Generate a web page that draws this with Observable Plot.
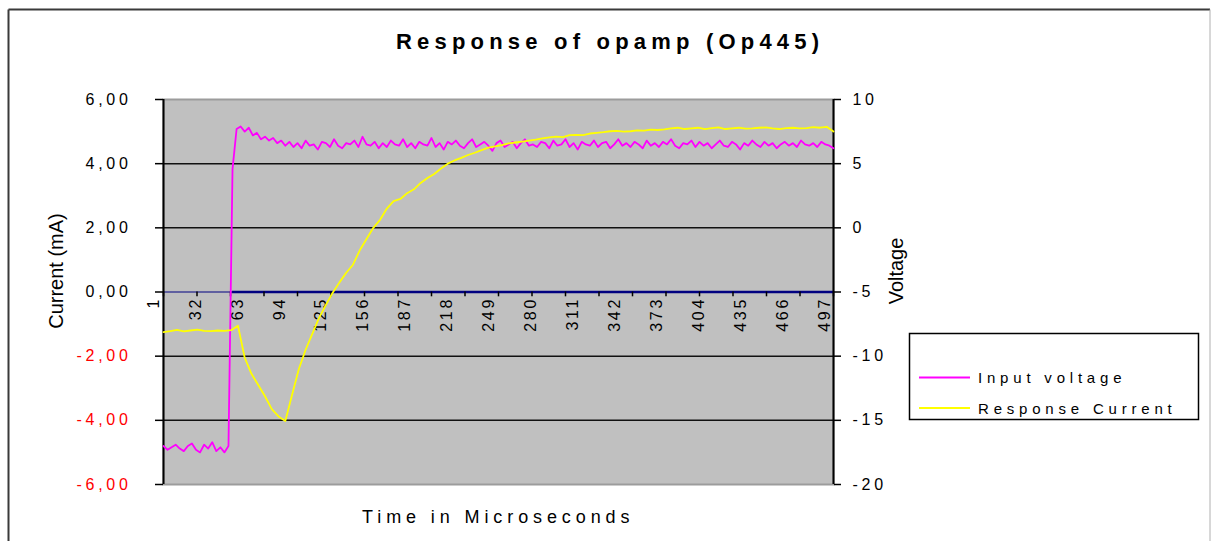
<!DOCTYPE html>
<html><head><meta charset="utf-8">
<script src="https://cdn.jsdelivr.net/npm/d3@7"></script>
<script src="https://cdn.jsdelivr.net/npm/@observablehq/plot@0.6"></script>
<style>
html,body{margin:0;padding:0;background:#fff;}
#chart svg{display:block}
</style></head><body><div id="chart"></div>
<script>
const chartTitle = "Response of opamp (Op445)";
const xTitle = "Time in Microseconds";
const yLeftTitle = "Current (mA)";
const yRightTitle = "Voltage";
const seriesNames = ["Input voltage", "Response Current"];
const seriesColors = ["#ff00ff", "#ffff00"];

// category (sample) tick labels on the x axis
const xLabels = [1, 32, 63, 94, 125, 156, 187, 218, 249, 280, 311, 342, 373, 404, 435, 466, 497];
// left axis (current, mA)
const leftTicks = [-6, -4, -2, 0, 2, 4, 6];
const leftTickLabels = ["-6,00", "-4,00", "-2,00", "0,00", "2,00", "4,00", "6,00"];
// right axis (voltage)
const rightTickLabels = ["-20", "-15", "-10", "-5", "0", "5", "10"];
const gridValues = [-4, -2, 2, 4];

// Response current (mA), every 5th sample starting at 1
const responseCurrent = [
  -1.25, -1.22, -1.18, -1.23, -1.2, -1.17, -1.21, -1.22, -1.2, -1.21,
  -1.19, -1.05, -2.05, -2.55, -2.9, -3.25, -3.65, -3.88, -4.02, -3.2,
  -2.4, -1.8, -1.3, -0.8, -0.4, -0.02, 0.3, 0.6, 0.85, 1.3,
  1.65, 2.0, 2.25, 2.6, 2.83, 2.9, 3.08, 3.2, 3.4, 3.55,
  3.68, 3.85, 4.0, 4.1, 4.18, 4.27, 4.34, 4.42, 4.5, 4.54,
  4.58, 4.63, 4.66, 4.69, 4.72, 4.75, 4.79, 4.82, 4.84, 4.83,
  4.89, 4.9, 4.89, 4.94, 4.96, 4.98, 5.01, 5.02, 5.0, 5.01,
  5.04, 5.03, 5.06, 5.05, 5.07, 5.1, 5.12, 5.08, 5.1, 5.12,
  5.08, 5.11, 5.13, 5.08, 5.1, 5.12, 5.09, 5.1, 5.12, 5.13,
  5.1, 5.08, 5.11, 5.12, 5.1, 5.11, 5.14, 5.12, 5.15, 5.0
];
// Input voltage (V), every 3rd sample starting at 1
const inputVoltage = [
  -17.0, -17.3, -17.1, -16.9, -17.2, -17.4, -17.0, -16.8, -17.3, -17.5,
  -16.9, -17.2, -16.7, -17.4, -17.1, -17.5, -17.0,
  4.6,
  7.7, 7.9, 7.5, 7.8, 7.2, 7.4, 6.9, 7.1, 6.8, 7.0, 6.6, 6.8, 6.4,
  6.7, 6.3, 6.6, 6.2, 6.8, 6.4, 6.5, 6.1, 6.7, 6.6, 6.3, 6.9, 6.4, 6.2, 6.6,
  6.5, 6.8, 6.3, 7.1, 6.5, 6.4, 6.7, 6.2, 6.6, 6.3, 6.8, 6.5, 6.4, 6.9, 6.3,
  6.6, 6.2, 6.7, 6.5, 6.4, 7.0, 6.3, 6.6, 6.1, 6.7, 6.5, 6.8, 6.4, 6.2, 6.6,
  6.9, 6.3, 6.5, 6.7, 6.4, 6.0, 6.6, 6.8, 6.3, 6.5, 6.7, 6.2, 6.6, 6.9, 6.4,
  6.5, 6.3, 6.7, 6.6, 6.2, 6.8, 6.4, 6.5, 6.9, 6.3, 6.6, 6.1, 6.7, 6.5, 6.4,
  6.8, 6.3, 6.6, 6.7, 6.2, 6.5, 6.9, 6.4, 6.6, 6.3, 6.7, 6.5, 6.2, 6.8, 6.4,
  6.6, 6.3, 6.7, 6.5, 6.9, 6.4, 6.2, 6.6, 6.5, 6.8, 6.3, 6.7, 6.4, 6.6, 6.2,
  6.5, 6.8, 6.4, 6.3, 6.7, 6.5, 6.1, 6.6, 6.4, 6.8, 6.5, 6.3, 6.7, 6.4, 6.6,
  6.2, 6.5, 6.7, 6.4, 6.6, 6.3, 6.8, 6.5, 6.4, 6.6, 6.3, 6.7, 6.5, 6.4, 6.2
];

const nSamples = 496;
const respT = responseCurrent.map((_, i) => 1 + 5 * i);
const inputT = inputVoltage.map((_, i) => 1 + 3 * i);
// voltage axis is linked to current axis: V = 2.5*I - 5
const voltToLeft = v => (v + 5) / 2.5;

const respData = respT.map((t, i) => ({t, c: responseCurrent[i]}));
const inputData = inputT.map((t, i) => ({t, v: voltToLeft(inputVoltage[i])}));
const stepT = inputData.find(d => d.v > 0).t;
const xTicks = d3.range(0, 21).map(k => 1 + k * (nSamples - 1) / 20);

const plot = Plot.plot({
  width: 1211, height: 541,
  marginLeft: 163, marginRight: 378, marginTop: 99, marginBottom: 57,
  x: {domain: [1, nSamples], axis: null},
  y: {domain: [-6, 6], axis: null},
  style: {fontFamily: "'Liberation Sans', Arial, sans-serif", background: "#fff", overflow: "visible"},
  marks: [
    Plot.frame({fill: "#c0c0c0", stroke: "#9c9c9c", strokeWidth: 2}),
    Plot.ruleY(gridValues, {stroke: "#111", strokeWidth: 1.5}),
    Plot.ruleY([0], {stroke: "#000080", strokeWidth: 1.2}),
    Plot.ruleY([0], {x1: () => stepT, x2: () => nSamples, stroke: "#000080", strokeWidth: 2.5}),
    Plot.ruleX(xTicks, {y1: () => 0, y2: () => -0.15, stroke: "#000", strokeWidth: 1.5}),
    Plot.axisY({anchor: "left", ticks: leftTicks, tickSize: 8, tickFormat: () => "", stroke: "#000", strokeWidth: 1.5}),
    Plot.axisY({anchor: "right", ticks: leftTicks, tickSize: 7, tickFormat: () => "", stroke: "#000", strokeWidth: 1.5}),
    Plot.ruleX([1, nSamples], {stroke: "#000", strokeWidth: 2}),
    Plot.text(leftTicks, {y: d => d, text: (d, i) => leftTickLabels[i], frameAnchor: "left", dx: -32,
      textAnchor: "end", fontSize: 16, fill: d => d < 0 ? "#ff0000" : "#000000"}),
    Plot.text(leftTicks, {y: d => d, text: (d, i) => rightTickLabels[i], frameAnchor: "right", dx: 19,
      textAnchor: "start", fontSize: 16, fill: "#000"}),
    Plot.text(xLabels, {x: d => d, y: () => 0, text: d => String(d), rotate: -90, textAnchor: "end",
      dx: -10, dy: 5, fontSize: 16, fill: "#000"}),
    Plot.line(inputData, {x: "t", y: "v", stroke: seriesColors[0], strokeWidth: 1.8}),
    Plot.line(respData, {x: "t", y: "c", stroke: seriesColors[1], strokeWidth: 1.8})
  ]
});

document.getElementById("chart").appendChild(plot);
const svg = d3.select(plot);
const font = "'Liberation Sans', Arial, sans-serif";

// letter spacing of tick-label groups (left, right, x), in mark order
const textGroups = svg.selectAll('g[aria-label="text"]').nodes();
[3.7, 3.7, 2.7].forEach((ls, i) => {
  if (textGroups[i]) d3.select(textGroups[i]).attr("letter-spacing", ls + "px");
});

// outer chart border
svg.append("line").attr("x1", 8.5).attr("y1", 9.5).attr("x2", 8.5).attr("y2", 541).attr("stroke", "#3a3a3a").attr("stroke-width", 2);
svg.append("line").attr("x1", 8.5).attr("y1", 9.5).attr("x2", 1210).attr("y2", 9.5).attr("stroke", "#3a3a3a").attr("stroke-width", 2);
svg.append("line").attr("x1", 1210).attr("y1", 9.5).attr("x2", 1210).attr("y2", 541).attr("stroke", "#b0b0b0").attr("stroke-width", 1);

svg.append("text").text(chartTitle).attr("x", 396).attr("y", 49).attr("text-anchor", "start").attr("font-family", font)
  .attr("font-size", 22).attr("font-weight", "bold").attr("letter-spacing", "5.2px").attr("fill", "#000");
svg.append("text").text(xTitle).attr("x", 362).attr("y", 523).attr("text-anchor", "start").attr("font-family", font)
  .attr("font-size", 18).attr("letter-spacing", "4.9px").attr("fill", "#000");
svg.append("text").text(yLeftTitle).attr("transform", "translate(63,271) rotate(-90)").attr("text-anchor", "middle")
  .attr("font-family", font).attr("font-size", 20).attr("fill", "#000");
svg.append("text").text(yRightTitle).attr("transform", "translate(903,271) rotate(-90)").attr("text-anchor", "middle")
  .attr("font-family", font).attr("font-size", 20).attr("fill", "#000");

// legend
const lg = svg.append("g");
lg.append("rect").attr("x", 909.5).attr("y", 333.5).attr("width", 289).attr("height", 86)
  .attr("fill", "#fff").attr("stroke", "#000").attr("stroke-width", 1.5);
seriesNames.forEach((name, i) => {
  const y = [377.5, 408][i];
  lg.append("line").attr("x1", 919).attr("x2", 970).attr("y1", y).attr("y2", y)
    .attr("stroke", seriesColors[i]).attr("stroke-width", 2);
  lg.append("text").text(name).attr("x", 978).attr("y", y + 5.5).attr("text-anchor", "start").attr("font-family", font)
    .attr("font-size", 15).attr("letter-spacing", "4.8px").attr("fill", "#000");
});
</script></body></html>
